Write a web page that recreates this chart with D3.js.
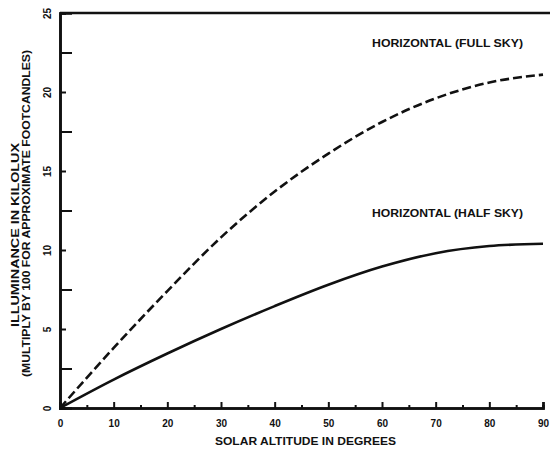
<!DOCTYPE html>
<html><head><meta charset="utf-8">
<script src="https://cdn.jsdelivr.net/npm/d3@7"></script>
<style>body{margin:0;background:#fff}svg{display:block}text{font-family:"Liberation Sans","DejaVu Sans",sans-serif;font-weight:bold;fill:#111}</style>
</head><body>
<svg id="c" width="550" height="451"></svg>
<script>
const altitude = [0,10,20,30,40,50,60,70,80,90];
const fullSky  = [0,3.8,7.4,10.8,13.7,16.1,18.1,19.6,20.6,21.1];
const halfSky  = [0,1.8,3.45,5.0,6.45,7.8,8.95,9.8,10.25,10.4];
const xTicks = [0,10,20,30,40,50,60,70,80,90];
const yTicks = [0,5,10,15,20,25];
const labelFull = "HORIZONTAL (FULL SKY)";
const labelHalf = "HORIZONTAL (HALF SKY)";
const yTitle1 = "ILLUMINANCE IN KILOLUX";
const yTitle2 = "(MULTIPLY BY 100 FOR APPROXIMATE FOOTCANDLES)";
const xTitle = "SOLAR ALTITUDE IN DEGREES";

const svg = d3.select("#c");
const x = d3.scaleLinear().domain([0,90]).range([60,543]);
const y = d3.scaleLinear().domain([0,25]).range([408,13]);

const xAx = svg.append("g").attr("transform","translate(0,408)")
  .call(d3.axisBottom(x).tickValues(xTicks).tickSize(-6).tickPadding(10).tickFormat(d3.format("d")));
const xMinor = svg.append("g").attr("transform","translate(0,408)")
  .call(d3.axisBottom(x).tickValues(d3.range(5,90,10)).tickSize(-3).tickFormat(""));
const yAx = svg.append("g").attr("transform","translate(60,0)")
  .call(d3.axisLeft(y).tickValues(yTicks).tickSize(-6).tickFormat(""));
const yMinor = svg.append("g").attr("transform","translate(60,0)")
  .call(d3.axisLeft(y).tickValues([2.5,7.5,12.5,17.5,22.5]).tickSize(-12).tickFormat(""));
[xAx,xMinor,yAx,yMinor].forEach(g=>{
  g.select(".domain").attr("stroke","#111").attr("stroke-width",2.6);
  g.selectAll(".tick line").attr("stroke","#111").attr("stroke-width",2);
  g.selectAll(".tick text").attr("font-size",10).attr("fill","#111")
    .style("font-family","'Liberation Sans',sans-serif").style("font-weight","bold");
});
xAx.selectAll(".tick text").attr("dy","0.9em");
// rotated y tick labels, as in the reference
yAx.selectAll(".tick").append("g")
  .attr("transform","translate(-13,0) rotate(-90)")
  .append("text")
  .attr("text-anchor","middle").attr("dy","0.35em")
  .attr("font-size",10).attr("fill","#111")
  .text(d=>d3.format("d")(d));

svg.append("line").attr("x1",x(0)).attr("x2",550).attr("y1",y(25)).attr("y2",y(25))
  .attr("stroke","#111").attr("stroke-width",2.6);

const line = d3.line().x((d,i)=>x(altitude[i])).y(d=>y(d)).curve(d3.curveMonotoneX);
svg.append("path").datum(fullSky).attr("d",line).attr("fill","none")
  .attr("stroke","#111").attr("stroke-width",2.6).attr("stroke-dasharray","9,4");
svg.append("path").datum(halfSky).attr("d",line).attr("fill","none")
  .attr("stroke","#111").attr("stroke-width",2.6);

function lbl(t, xx, yy, len, fs){
  return svg.append("text").attr("x",xx).attr("y",yy).attr("font-size",fs)
    .attr("textLength",len).attr("lengthAdjust","spacingAndGlyphs").text(t);
}
lbl(labelFull, 372, 47, 151, 11);
lbl(labelHalf, 372, 217, 151, 11);
lbl(xTitle, 215, 445, 181, 10);
svg.append("g").attr("transform","translate(19,327) rotate(-90)")
  .append("text").attr("font-size",10).attr("textLength",184).attr("lengthAdjust","spacingAndGlyphs").text(yTitle1);
svg.append("g").attr("transform","translate(30,377) rotate(-90)")
  .append("text").attr("font-size",10).attr("textLength",327).attr("lengthAdjust","spacingAndGlyphs").text(yTitle2);
</script>
</body></html>
